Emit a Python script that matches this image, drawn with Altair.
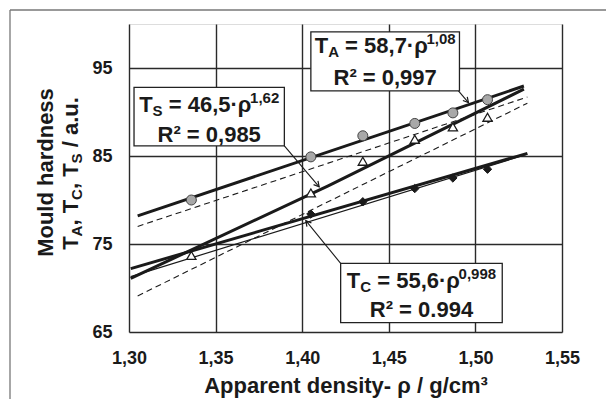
import math
import altair as alt
import pandas as pd

# ---------------- data ----------------
rho = [1.336, 1.405, 1.435, 1.465, 1.487, 1.507]
T_A = [80.0, 84.9, 87.3, 88.7, 89.9, 91.4]
T_S = [73.7, 80.8, 84.4, 86.9, 88.3, 89.4]
rho_C = [1.405, 1.435, 1.465, 1.487, 1.507]
T_C = [78.4, 79.8, 81.3, 82.5, 83.5]

# trend lines, end points
trend_A_x = [1.305, 1.528]
trend_A_y = [78.2, 92.95]
trend_S_x = [1.301, 1.415, 1.528]
trend_S_y = [71.1, 81.6, 92.6]
trend_C_x = [1.301, 1.530]
trend_C_y = [72.2, 85.3]
thin_x = [1.301, 1.530]
thin_y = [71.3, 85.2]
dash1_x = [1.305, 1.530]
dash1_y = [77.0, 91.7]
dash2_x = [1.305, 1.530]
dash2_y = [69.1, 91.0]

x_ticks = [1.30, 1.35, 1.40, 1.45, 1.50, 1.55]
y_ticks = [65, 75, 85, 95]

# annotation boxes
box_names = ["A", "S", "C"]
box_coef = ["= 58,7·ρ", "= 46,5·ρ", "= 55,6·ρ"]
box_exp = ["1,08", "1,62", "0,998"]
box_r2 = ["R² = 0,997", "R² = 0,985", "R² = 0.994"]
box_x1 = [1.405, 1.3029, 1.4222]
box_x2 = [1.4908, 1.3897, 1.5155]
box_y1 = [92.4, 86.14, 66.06]
box_y2 = [99.1, 92.8, 72.8]
box_l1 = [96.7, 90.0, 70.0]
box_l2 = [93.07, 86.63, 66.74]

# arrows from boxes to curves
arr_x1 = [1.4902, 1.3897, 1.4222]
arr_y1 = [92.4, 86.14, 72.8]
arr_x2 = [1.496, 1.4098, 1.4021]
arr_y2 = [91.06, 81.5, 77.65]

# ---------------- layout ----------------
W_PX, H_PX = 433, 308
X_DOM = [1.30, 1.55]
Y_DOM = [65, 100]
PX_X = W_PX / (X_DOM[1] - X_DOM[0])
PX_Y = H_PX / (Y_DOM[1] - Y_DOM[0])
FONT = "Liberation Sans"
INK = "#1a1a1a"
BIG, SMALL = 22, 15

ADV = {" ": .278, ",": .278, ".": .278, "/": .278, "=": .584, "·": .278,
       "ρ": .611, "T": .611, "A": .722, "C": .722, "S": .667, "R": .722,
       "²": .333, "a": .556, "u": .611}


def tw(s, size):
    return sum(ADV.get(c, .556) for c in s) * size


xs = alt.Scale(domain=X_DOM, nice=False, zero=False)
ys = alt.Scale(domain=Y_DOM, nice=False, zero=False)
xaxis = alt.Axis(values=x_ticks, labelExpr="replace(format(datum.value,'.2f'),'.',',')",
                 title="Apparent density- ρ / g/cm³", grid=True, gridColor="#2a2a2a",
                 gridWidth=1.4, ticks=False, tickSize=0, domain=False, labelFlush=False,
                 labelFont=FONT, labelFontWeight="bold", labelFontSize=18, labelColor=INK,
                 labelPadding=17, titleFont=FONT, titleFontWeight="bold", titleFontSize=22,
                 titleColor=INK, titlePadding=8)
yaxis = alt.Axis(values=y_ticks, title=None, grid=True, gridColor="#2a2a2a", gridWidth=1.4,
                 ticks=False, tickSize=0, domain=False, labelFlush=False,
                 labelFont=FONT, labelFontWeight="bold", labelFontSize=18, labelColor=INK,
                 labelPadding=17)


def X(f="x"):
    return alt.X(f + ":Q", scale=xs, axis=xaxis)


def Y(f="y"):
    return alt.Y(f + ":Q", scale=ys, axis=yaxis)


# ---------------- tables ----------------
def line_df(xv, yv, name):
    return pd.DataFrame({"x": xv, "y": yv, "s": name})


thick_df = pd.concat([line_df(trend_A_x, trend_A_y, "A"), line_df(trend_S_x, trend_S_y, "S"),
                      line_df(trend_C_x, trend_C_y, "C")])
thin_df = line_df(thin_x, thin_y, "thin")
dash_df = pd.concat([line_df(dash1_x, dash1_y, "d1"), line_df(dash2_x, dash2_y, "d2")])

a_df = pd.DataFrame({"x": rho, "y": T_A})
s_df = pd.DataFrame({"x": rho, "y": T_S})
c_df = pd.DataFrame({"x": rho_C, "y": T_C})

box_df = pd.DataFrame({"x": box_x1, "x2": box_x2, "y": box_y1, "y2": box_y2})
arr_df = pd.DataFrame({"x": arr_x1, "y": arr_y1, "x2": arr_x2, "y2": arr_y2})
arr_df["ang"] = [math.degrees(math.atan2((b - a) * PX_X, (d - c) * PX_Y)) % 360
                 for a, b, c, d in zip(arr_x1, arr_x2, arr_y1, arr_y2)]
head_df = pd.DataFrame({"x": arr_x2, "y": arr_y2, "ang": arr_df["ang"]})

# pieces: (text, size, kind, leading gap in px)
main_rows, sub_rows, sup_rows, l2_rows = [], [], [], []
for i, n in enumerate(box_names):
    sp = tw(" ", BIG)
    pieces = [("T", BIG, "m", 0), (n, SMALL, "b", 0), (box_coef[i], BIG, "m", sp),
              (box_exp[i], SMALL, "p", 0)]
    total = sum(tw(p[0], p[1]) + p[3] for p in pieces)
    cx = (box_x1[i] + box_x2[i]) / 2
    off = -total / 2
    for txt, sz, kind, gap in pieces:
        off += gap
        row = {"x": cx + off / PX_X, "y": box_l1[i], "t": txt}
        {"m": main_rows, "b": sub_rows, "p": sup_rows}[kind].append(row)
        off += tw(txt, sz)
    l2_rows.append({"x": cx, "y": box_l2[i], "t": box_r2[i]})

main_df, sub_df, sup_df, l2_df = map(pd.DataFrame, [main_rows, sub_rows, sup_rows, l2_rows])

# ---------------- layers ----------------
one = pd.DataFrame({"k": [0]})
layers = []

layers.append(alt.Chart(one).mark_rule(color="#777", strokeWidth=1.3).encode(
    x=alt.value(-119), y=alt.value(-14), y2=alt.value(420)))
layers.append(alt.Chart(one).mark_rule(color="#777", strokeWidth=1.3).encode(
    x=alt.value(-119), x2=alt.value(600), y=alt.value(-14)))

layers.append(alt.Chart(dash_df).mark_line(color=INK, strokeWidth=1.1, strokeDash=[6, 4]).encode(
    x=X(), y=Y(), detail="s:N"))
layers.append(alt.Chart(thin_df).mark_line(color=INK, strokeWidth=1.2).encode(
    x=X(), y=Y(), detail="s:N"))
layers.append(alt.Chart(thick_df).mark_line(color=INK, strokeWidth=3).encode(
    x=X(), y=Y(), detail="s:N"))

layers.append(alt.Chart(a_df).mark_point(shape="circle", filled=True, fill="#a8a8a8", stroke="#444",
                                         strokeWidth=1, size=100, opacity=1).encode(x=X(), y=Y()))
layers.append(alt.Chart(s_df).mark_point(shape="triangle-up", filled=True, fill="white", stroke=INK,
                                         strokeWidth=1.3, size=85, opacity=1).encode(x=X(), y=Y()))
layers.append(alt.Chart(c_df).mark_point(shape="diamond", filled=True, fill=INK, stroke=INK,
                                         strokeWidth=1, size=70, opacity=1).encode(x=X(), y=Y()))

layers.append(alt.Chart(arr_df).mark_rule(color=INK, strokeWidth=1.1).encode(
    x=X(), y=Y(), x2="x2:Q", y2="y2:Q"))
layers.append(alt.Chart(head_df).mark_point(shape="M-0.55,1L0,0L0.55,1", filled=False, stroke=INK,
                                            strokeWidth=1.2, size=110, opacity=1).encode(
    x=X(), y=Y(), angle=alt.Angle("ang:Q", scale=None)))

layers.append(alt.Chart(box_df).mark_rect(fill="white", stroke="#222", strokeWidth=1.3).encode(
    x=X(), x2="x2:Q", y=Y(), y2="y2:Q"))

tkw = dict(font=FONT, fontWeight="bold", color=INK, baseline="alphabetic")
layers.append(alt.Chart(main_df).mark_text(align="left", fontSize=BIG, **tkw).encode(
    x=X(), y=Y(), text="t:N"))
layers.append(alt.Chart(sub_df).mark_text(align="left", fontSize=SMALL, dy=4, **tkw).encode(
    x=X(), y=Y(), text="t:N"))
layers.append(alt.Chart(sup_df).mark_text(align="left", fontSize=SMALL, dy=-9, **tkw).encode(
    x=X(), y=Y(), text="t:N"))
layers.append(alt.Chart(l2_df).mark_text(align="center", fontSize=BIG, **tkw).encode(
    x=X(), y=Y(), text="t:N"))

# rotated y-axis title (two lines, with subscripts)
layers.append(alt.Chart(one).mark_text(text="Mould hardness", angle=270, align="center",
                                       fontSize=BIG, **tkw).encode(
    x=alt.value(-76), y=alt.value(148.5)))
sp = tw(" ", BIG)
ypieces = [("T", BIG, 0, 0), ("A", SMALL, 1, 0), (", T", BIG, 0, 0), ("C", SMALL, 1, 0),
           (", T", BIG, 0, 0), ("S", SMALL, 1, 0), ("/ a.u.", BIG, 0, sp)]
ytot = sum(tw(p[0], p[1]) + p[3] for p in ypieces)
ypos = 149.5 + ytot / 2
for txt, sz, sub, gap in ypieces:
    ypos -= gap
    layers.append(alt.Chart(one).mark_text(text=txt, angle=270, align="left", fontSize=sz,
                                           **tkw).encode(
        x=alt.value(-51 + 4 * sub), y=alt.value(ypos)))
    ypos -= tw(txt, sz)

chart = alt.layer(*layers).properties(
    width=W_PX, height=H_PX,
    autosize=alt.AutoSizeParams(type="none"),
    padding={"left": 121, "top": 16, "right": 44, "bottom": 67},
).configure_view(stroke=INK, strokeWidth=2).configure(background="white")

chart.save("out.html", embed_options={"renderer": "svg", "actions": False})
